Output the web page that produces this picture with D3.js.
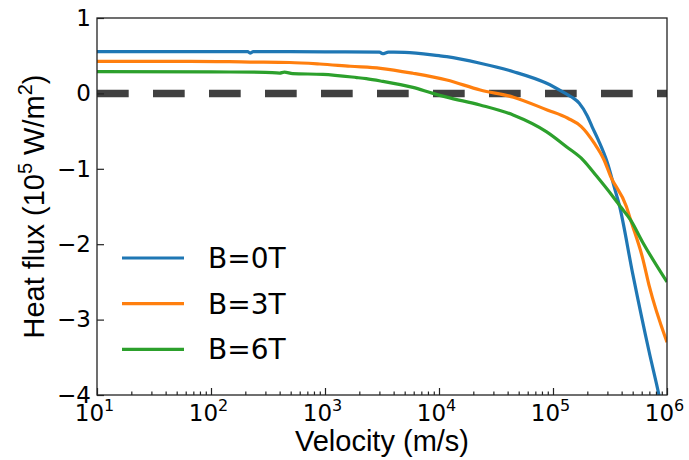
<!DOCTYPE html>
<html>
<head>
<meta charset="utf-8">
<script src="https://cdn.jsdelivr.net/npm/d3@7"></script>
<style>
  html, body { margin: 0; padding: 0; background: #fff; }
  svg { display: block; }
</style>
</head>
<body>
<svg id="chart" width="689" height="460"></svg>
<script>
// Heat flux vs. velocity for three magnetic field strengths
const blueV  = [10, 100, 210, 220, 235, 1000, 3000, 3200, 3600, 5000, 1e4, 1.17e4, 2.3e4, 4.5e4, 8.8e4, 1.35e5, 1.5e5, 1.7e5, 2e5, 2.2e5, 2.5e5, 3e5, 3.5e5, 3.8e5, 5e5, 7e5, 8.5e5, 1e6];
const blueQ  = [0.553, 0.553, 0.553, 0.535, 0.553, 0.552, 0.548, 0.527, 0.547, 0.545, 0.50, 0.487, 0.40, 0.288, 0.134, -0.02, -0.06, -0.13, -0.30, -0.44, -0.62, -0.92, -1.28, -1.47, -2.39, -3.44, -4.0, -4.55];

const orangeV = [10, 66, 220, 490, 900, 1670, 3070, 5900, 1.17e4, 2.3e4, 4.5e4, 8.9e4, 1.35e5, 1.77e5, 2.3e5, 2.8e5, 3.2e5, 4.4e5, 4.8e5, 6.15e5, 7e5, 1e6];
const orangeQ = [0.426, 0.426, 0.416, 0.41, 0.39, 0.36, 0.333, 0.267, 0.178, 0.045, -0.05, -0.22, -0.33, -0.44, -0.66, -0.88, -1.10, -1.50, -1.68, -2.2, -2.56, -3.3];

const greenV = [10, 100, 300, 400, 440, 520, 960, 1900, 2300, 3070, 5900, 8850, 1.17e4, 2.29e4, 4.47e4, 8.8e4, 1.32e5, 1.83e5, 2.42e5, 3.36e5, 3.9e5, 4.8e5, 6.15e5, 1e6];
const greenQ = [0.288, 0.285, 0.28, 0.27, 0.282, 0.262, 0.253, 0.21, 0.195, 0.165, 0.08, 0.0, -0.05, -0.154, -0.286, -0.51, -0.71, -0.88, -1.10, -1.37, -1.50, -1.68, -1.98, -2.5];

const seriesNames  = ["B=0T", "B=3T", "B=6T"];
const seriesColors = ["#1f77b4", "#ff7f0e", "#2ca02c"];

const xTickExponents = [1, 2, 3, 4, 5, 6];
const yTicks = [-4, -3, -2, -1, 0, 1];

const margin = { left: 97, right: 22, top: 18, bottom: 65 };
const W = 689, H = 460;

const svg = d3.select("#chart");

const x = d3.scaleLog().domain([10, 1e6]).range([margin.left, W - margin.right]);
const y = d3.scaleLinear().domain([-4, 1]).range([H - margin.bottom, margin.top]);

svg.append("defs").append("clipPath").attr("id", "plot-clip")
  .append("rect")
  .attr("x", margin.left).attr("y", margin.top)
  .attr("width", W - margin.left - margin.right)
  .attr("height", H - margin.top - margin.bottom);

const plot = svg.append("g").attr("clip-path", "url(#plot-clip)");

// zero reference line
plot.append("line")
  .attr("x1", x(10)).attr("x2", x(1e6))
  .attr("y1", y(0)).attr("y2", y(0))
  .attr("stroke", "#404040")
  .attr("stroke-width", 7.5)
  .attr("stroke-dasharray", "31.7,24.3");

const series = [
  { v: blueV, q: blueQ },
  { v: orangeV, q: orangeQ },
  { v: greenV, q: greenQ }
];

const line = d3.line()
  .x(d => x(d[0]))
  .y(d => y(d[1]))
  .curve(d3.curveMonotoneX);

series.forEach((s, i) => {
  const pts = s.v.map((v, j) => [v, s.q[j]]);
  plot.append("path")
    .attr("d", line(pts))
    .attr("fill", "none")
    .attr("stroke", seriesColors[i])
    .attr("stroke-width", 3.2)
    .attr("stroke-linejoin", "round");
});

// axes
const tickFont = "'DejaVu Sans', sans-serif";
const labelFont = "'Liberation Sans', Arial, sans-serif";

const majorX = xTickExponents.map(e => Math.pow(10, e));
const minorX = [];
for (let e = 1; e < 6; e++) for (let m = 2; m <= 9; m++) minorX.push(m * Math.pow(10, e));

const xMinor = svg.append("g")
  .attr("transform", `translate(0,${y(-4)})`)
  .call(d3.axisBottom(x).tickValues(minorX).tickSize(-3.5).tickFormat(""));
xMinor.select(".domain").remove();

const xAxis = svg.append("g")
  .attr("transform", `translate(0,${y(-4)})`)
  .call(d3.axisBottom(x).tickValues(majorX).tickSize(-7).tickPadding(6).tickFormat(""));
xAxis.select(".domain").remove();

xAxis.selectAll(".tick").append("text")
  .attr("fill", "#000")
  .attr("y", 26)
  .attr("x", -3)
  .attr("text-anchor", "middle")
  .attr("font-family", tickFont)
  .attr("font-size", 23)
  .each(function(d) {
    const t = d3.select(this);
    const e = Math.round(Math.log10(d));
    t.append("tspan").text("10");
    t.append("tspan").attr("font-size", 16).attr("dy", -10).text(e);
  });

const yAxis = svg.append("g")
  .attr("transform", `translate(${x(10)},0)`)
  .call(d3.axisLeft(y).tickValues(yTicks).tickSize(-7).tickPadding(6)
    .tickFormat(d => d < 0 ? "\u2212" + Math.abs(d) : String(d)));
yAxis.select(".domain").remove();
yAxis.selectAll(".tick text")
  .attr("font-family", tickFont)
  .attr("font-size", 23)
  .attr("fill", "#000")
  .attr("x", -6);

svg.selectAll(".tick line").attr("stroke", "#222").attr("stroke-width", 1.2);

// frame
svg.append("rect")
  .attr("x", margin.left).attr("y", margin.top)
  .attr("width", W - margin.left - margin.right)
  .attr("height", H - margin.top - margin.bottom)
  .attr("fill", "none")
  .attr("stroke", "#222")
  .attr("stroke-width", 1.3);

// axis labels
svg.append("text")
  .attr("x", (x(10) + x(1e6)) / 2)
  .attr("y", 451)
  .attr("text-anchor", "middle")
  .attr("font-family", labelFont)
  .attr("font-size", 29)
  .attr("fill", "#000")
  .text("Velocity (m/s)");

const yl = svg.append("text")
  .attr("transform", `translate(44,${(y(-4) + y(1)) / 2}) rotate(-90)`)
  .attr("text-anchor", "middle")
  .attr("font-family", labelFont)
  .attr("font-size", 29)
  .attr("fill", "#000");
yl.append("tspan").text("Heat flux (10");
yl.append("tspan").attr("font-size", 20).attr("dy", -12).text("5");
yl.append("tspan").attr("dy", 12).text(" W/m");
yl.append("tspan").attr("font-size", 20).attr("dy", -12).text("2");
yl.append("tspan").attr("dy", 12).text(")");

// legend
const legend = svg.append("g");
seriesNames.forEach((name, i) => {
  const ly = 258 + i * 45.7;
  legend.append("line")
    .attr("x1", 122).attr("x2", 184)
    .attr("y1", ly).attr("y2", ly)
    .attr("stroke", seriesColors[i])
    .attr("stroke-width", 3.2);
  legend.append("text")
    .attr("x", 208).attr("y", ly)
    .attr("dy", "0.36em")
    .attr("font-family", tickFont)
    .attr("font-size", 28)
    .attr("fill", "#000")
    .text(name);
});
</script>
</body>
</html>
